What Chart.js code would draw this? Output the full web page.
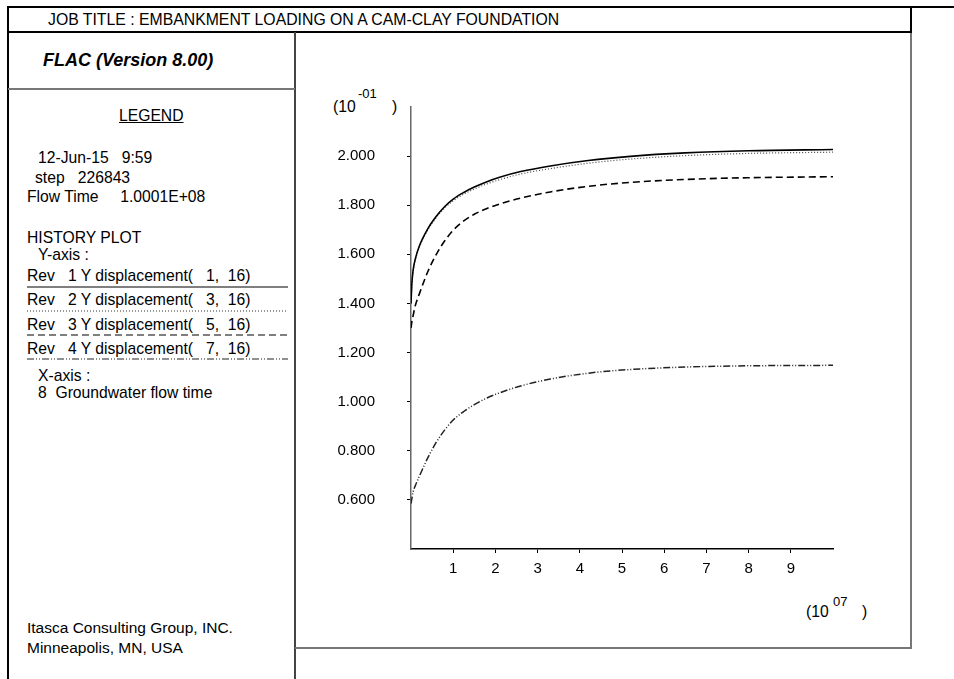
<!DOCTYPE html>
<html>
<head>
<meta charset="utf-8">
<script src="https://cdn.jsdelivr.net/npm/chart.js@4.4.0/dist/chart.umd.min.js"></script>
<style>
  body { margin: 0; background: #fff; width: 954px; height: 679px; overflow: hidden; position: relative;
         font-family: "Liberation Sans", Arial, sans-serif; font-size: 15.7px; color: #000; }
  .t { position: absolute; white-space: pre; line-height: 1; }
  .ln { position: absolute; background: #000; z-index: 2; }
  .g { background: #777; }
  #plot { position: absolute; left: 296px; top: 33px; }
</style>
</head>
<body>

<!-- frame -->
<div class="ln" style="left:7px;top:6px;width:947px;height:2px"></div>
<div class="ln" style="left:7px;top:31px;width:905px;height:2px"></div>
<div class="ln" style="left:7px;top:6px;width:2px;height:673px"></div>
<div class="ln" style="left:294px;top:32px;width:2px;height:647px;background:#444"></div>
<div class="ln g" style="left:8px;top:88px;width:287px;height:2px"></div>
<div class="ln" style="left:910px;top:6px;width:2px;height:27px"></div>
<div class="ln g" style="left:910px;top:33px;width:2px;height:616px"></div>
<div class="ln g" style="left:295px;top:647px;width:617px;height:2px"></div>

<!-- header / legend texts -->
<div class="t" style="left:48px;top:12px;font-size:15.8px">JOB TITLE : EMBANKMENT LOADING ON A CAM-CLAY FOUNDATION</div>
<div class="t" style="left:43px;top:51px;font-size:18px;font-weight:bold;font-style:italic">FLAC (Version 8.00)</div>
<div class="t" style="left:119px;top:108px;text-decoration:underline">LEGEND</div>
<div class="t" style="left:38px;top:150px">12-Jun-15   9:59</div>
<div class="t" style="left:35px;top:170px">step   226843</div>
<div class="t" style="left:27px;top:189px">Flow Time     1.0001E+08</div>
<div class="t" style="left:27px;top:230px">HISTORY PLOT</div>
<div class="t" style="left:38px;top:247px">Y-axis :</div>
<div class="t" style="left:27px;top:268px">Rev   1 Y displacement(   1,  16)</div>
<div class="t" style="left:27px;top:292px">Rev   2 Y displacement(   3,  16)</div>
<div class="t" style="left:27px;top:317px">Rev   3 Y displacement(   5,  16)</div>
<div class="t" style="left:27px;top:341px">Rev   4 Y displacement(   7,  16)</div>
<div class="t" style="left:38px;top:368px">X-axis :</div>
<div class="t" style="left:38px;top:385px">8  Groundwater flow time</div>
<div class="t" style="left:27px;top:620px;font-size:15.5px">Itasca Consulting Group, INC.</div>
<div class="t" style="left:27px;top:640px;font-size:15.5px">Minneapolis, MN, USA</div>

<svg style="position:absolute;left:0;top:0;z-index:2" width="300" height="400">
  <line x1="27" y1="287" x2="288" y2="287" stroke="#000" stroke-width="1.2"/>
  <line x1="27" y1="311" x2="288" y2="311" stroke="#333" stroke-width="1" stroke-dasharray="1,2"/>
  <line x1="27" y1="335" x2="288" y2="335" stroke="#000" stroke-width="1.2" stroke-dasharray="7,4"/>
  <line x1="27" y1="359" x2="288" y2="359" stroke="#222" stroke-width="1.2" stroke-dasharray="7,2,1,2,1,2"/>
</svg>

<!-- axis multipliers -->
<div class="t" style="left:333px;top:99px">(10</div>
<div class="t" style="left:358px;top:87px;font-size:13px">-01</div>
<div class="t" style="left:392px;top:99px">)</div>
<div class="t" style="left:806px;top:604px">(10</div>
<div class="t" style="left:833px;top:595px;font-size:13px">07</div>
<div class="t" style="left:862px;top:604px">)</div>

<canvas id="plot" width="614" height="614"></canvas>

<script>
// groundwater flow time (x 10^7)
var timeX = [0, 0.02, 0.05, 0.1, 0.2, 0.4, 0.6, 0.8, 1.0, 1.25, 1.5, 1.8, 2.1, 2.6, 3.3, 4.2, 5.2, 6.5, 8.0, 10.0];
// Y displacement histories (x 10^-1)
var rev1 = [1.40, 1.48, 1.535, 1.58, 1.635, 1.705, 1.755, 1.795, 1.825, 1.852, 1.874, 1.896, 1.914, 1.937, 1.960, 1.982, 1.999, 2.013, 2.022, 2.027];
var rev2 = [1.40, 1.475, 1.53, 1.575, 1.63, 1.70, 1.75, 1.789, 1.818, 1.845, 1.866, 1.887, 1.904, 1.927, 1.949, 1.971, 1.988, 2.002, 2.011, 2.016];
var rev3 = [1.30, 1.325, 1.35, 1.39, 1.44, 1.53, 1.60, 1.655, 1.698, 1.736, 1.763, 1.787, 1.805, 1.829, 1.854, 1.877, 1.893, 1.905, 1.912, 1.916];
var rev4 = [0.585, 0.605, 0.632, 0.657, 0.697, 0.772, 0.835, 0.885, 0.925, 0.960, 0.988, 1.015, 1.036, 1.064, 1.092, 1.116, 1.131, 1.141, 1.146, 1.148];

var xTicks = [1, 2, 3, 4, 5, 6, 7, 8, 9];
var yTicks = [0.6, 0.8, 1.0, 1.2, 1.4, 1.6, 1.8, 2.0];

function pts(values)
{
  return values.map(function (v, i) { return { x: timeX[i], y: v }; });
}

var tickFont = { family: "'Liberation Sans', Arial, sans-serif", size: 15 };

new Chart(document.getElementById("plot"),
{
  type: 'line',
  data:
  {
    datasets:
    [{
      label: "Rev 1",
      data: pts(rev1),
      borderColor: "#000",
      borderWidth: 1.6
    },
    {
      label: "Rev 2",
      data: pts(rev2),
      borderColor: "#444",
      borderWidth: 1.2,
      borderDash: [1, 2]
    },
    {
      label: "Rev 3",
      data: pts(rev3),
      borderColor: "#000",
      borderWidth: 1.6,
      borderDash: [7, 4]
    },
    {
      label: "Rev 4",
      data: pts(rev4),
      borderColor: "#222",
      borderWidth: 1.5,
      borderDash: [7, 2, 1, 2, 1, 2]
    }]
  },
  options:
  {
    responsive: false,
    animation: false,
    layout: { padding: { top: 74, right: 77, left: 0, bottom: 0 } },
    plugins: { legend: { display: false }, tooltip: { enabled: false } },
    elements:
    {
      point: { radius: 0 },
      line: { cubicInterpolationMode: 'monotone', fill: false }
    },
    scales:
    {
      x:
      {
        type: 'linear',
        min: 0,
        max: 10,
        afterBuildTicks: function (s) { s.ticks = xTicks.map(function (v) { return { value: v }; }); },
        afterFit: function (s) { s.height = 98; },
        grid: { drawOnChartArea: false, tickLength: 4, color: "#000" },
        border: { color: "#000", width: 1.5 },
        ticks: { autoSkip: false, maxRotation: 0, padding: 7, color: "#000", font: tickFont,
                 callback: function (v) { return String(v); } }
      },
      y:
      {
        type: 'linear',
        min: 0.4,
        max: 2.2,
        afterBuildTicks: function (s) { s.ticks = yTicks.map(function (v) { return { value: v }; }); },
        afterFit: function (s) { s.width = 115; },
        grid: { drawOnChartArea: false, tickLength: 4, color: "#000" },
        border: { color: "#666", width: 1.5 },
        ticks: { autoSkip: false, padding: 32, color: "#000", font: tickFont,
                 callback: function (v) { return v.toFixed(3); } }
      }
    }
  }
});
</script>
</body>
</html>
